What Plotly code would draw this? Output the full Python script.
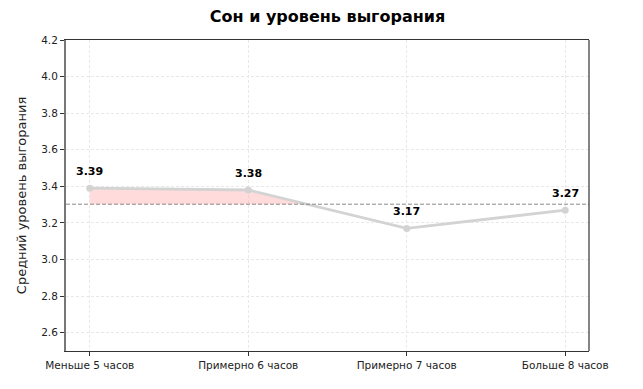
import plotly.graph_objects as go

categories = ["Меньше 5 часов", "Примерно 6 часов", "Примерно 7 часов", "Больше 8 часов"]
burnout = [3.39, 3.38, 3.17, 3.27]
y_ticks = [2.6, 2.8, 3.0, 3.2, 3.4, 3.6, 3.8, 4.0, 4.2]

mean_val = sum(burnout) / len(burnout)
xs = list(range(len(categories)))

# Fill region where values are above the mean (interpolated crossing)
fx, fy = [], []
for i in range(len(burnout)):
    if burnout[i] >= mean_val:
        if not fx:
            fx.append(xs[i]); fy.append(mean_val)
        fx.append(xs[i]); fy.append(burnout[i])
    if i < len(burnout) - 1:
        a, b = burnout[i], burnout[i + 1]
        if (a - mean_val) * (b - mean_val) < 0 and a > mean_val:
            t = (a - mean_val) / (a - b)
            fx.append(xs[i] + t); fy.append(mean_val)
            break

W, H = 635, 381  # page body has an 8px margin

fig = go.Figure()
fig.add_trace(go.Scatter(x=fx, y=fy, fill="toself", mode="lines",
                         line=dict(width=0), fillcolor="rgba(255,160,160,0.38)",
                         hoverinfo="skip", showlegend=False))
fig.add_trace(go.Scatter(x=xs, y=burnout, mode="lines+markers",
                         line=dict(color="#d3d3d3", width=2.8),
                         marker=dict(color="#d3d3d3", size=7),
                         showlegend=False))

fig.add_shape(type="line", xref="x domain", yref="y", x0=0, x1=1,
              y0=mean_val, y1=mean_val,
              line=dict(color="#8a8a8a", width=1, dash="4px,2px"))
# right spine
fig.add_shape(type="line", xref="x domain", yref="y domain", x0=1, x1=1, y0=0, y1=1,
              line=dict(color="#333333", width=1.2))

for x, v in zip(xs, burnout):
    fig.add_annotation(x=x, y=v, text=f"<b>{v:.2f}</b>", showarrow=False,
                       yanchor="bottom", yshift=8,
                       font=dict(family="DejaVu Sans", size=11, color="black"))

fig.update_layout(
    width=W, height=H,
    margin=dict(l=58, r=54, t=32, b=38),
    paper_bgcolor="white", plot_bgcolor="white",
    font=dict(family="DejaVu Sans", size=10.5, color="#222"),
    title=dict(text="<b>Сон и уровень выгорания</b>", x=0.5, xref="paper", xanchor="center",
               yref="container", y=1 - 8.5 / H, yanchor="middle",
               font=dict(family="DejaVu Sans", size=16, color="black")),
)
fig.update_xaxes(range=[-0.15, 3.15], tickmode="array", tickvals=xs, ticktext=categories,
                 showgrid=True, gridcolor="#e8e8e8", griddash="3px,2px", gridwidth=1,
                 showline=True, linecolor="#333", linewidth=1.2, mirror=True,
                 ticks="outside", ticklen=4, tickcolor="#333", zeroline=False,
                 tickfont=dict(size=10.5, color="#222"))
fig.update_yaxes(range=[2.5, 4.2], tickmode="array", tickvals=y_ticks,
                 ticktext=[f"{t:.1f}" for t in y_ticks],
                 showgrid=True, gridcolor="#e8e8e8", griddash="3px,2px", gridwidth=1,
                 showline=True, linecolor="#777", linewidth=2, mirror=False,
                 ticks="outside", ticklen=4, tickcolor="#333", zeroline=False,
                 tickfont=dict(size=10.5, color="#222"),
                 title=dict(text="Средний уровень выгорания", standoff=12,
                            font=dict(size=13, color="#222")))

fig.write_html("out.html")
